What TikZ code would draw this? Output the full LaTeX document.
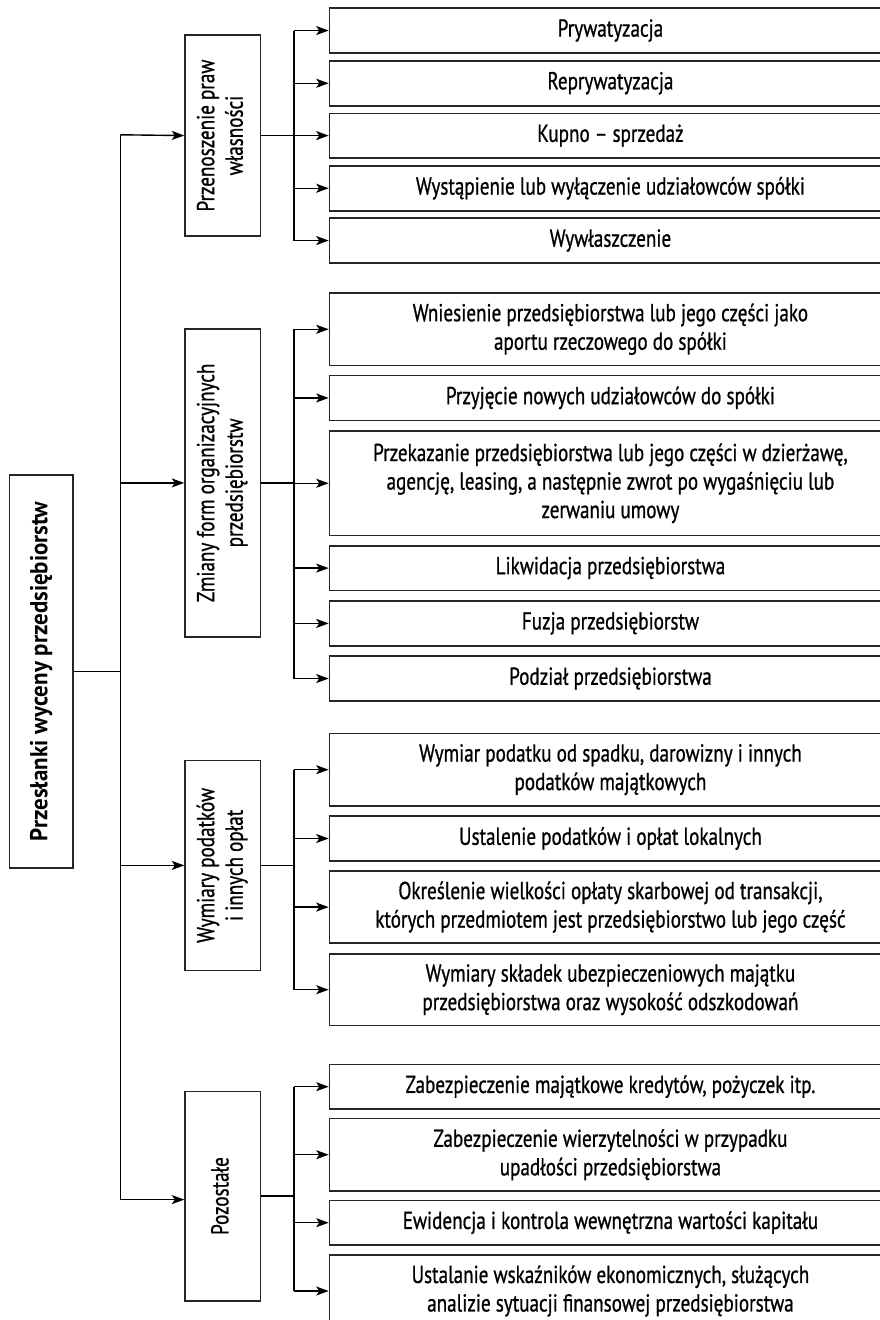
\documentclass[tikz,border=0pt]{standalone}
\usepackage{fontspec}
\setmainfont[FakeStretch=0.78,FakeBold=0.8]{PT Sans}
\newfontfamily\titlefont[FakeStretch=0.935]{PT Sans}
\usetikzlibrary{arrows.meta}

% placement helpers: name, top y, height, text
\newcommand\leafbox[4]{%
  \node[leaf, anchor=north west, minimum height=#3] (#1) at (328.7,#2) {#4};}
\newcommand\catbox[4]{%
  \node[cat, anchor=north west, minimum height=#3] (#1) at (184.3,#2)
    {\rotatebox{90}{\begin{tabular}{@{}c@{}}#4\end{tabular}}};}

\begin{document}
\begin{tikzpicture}[x=1pt,y=-1pt,
  txt/.style={font=\fontsize{24.5}{28.5}\selectfont},
  leaf/.style={txt, draw=black!85, line width=1.5pt, minimum width=562pt,
    align=center, inner sep=0pt},
  cat/.style={txt, draw=black!85, line width=1.5pt, minimum width=75.4pt,
    inner sep=0pt},
  conn/.style={draw=black, line width=1.4pt},
  arr/.style={conn, -{Stealth[length=12.5pt,width=9pt,inset=3pt]}},
]
\useasboundingbox (0,0) rectangle (880,1320);
\clip (0,0) rectangle (880,1320);

% root
\node[draw=black!85, line width=1.5pt, minimum width=63.3pt, minimum height=393.2pt,
  inner sep=0pt, anchor=north west] (root) at (8.7,474)
  {\rotatebox{90}{\fontsize{24.5}{28.5}\titlefont\bfseries Przesłanki wyceny przedsiębiorstw}};

% categories
\catbox{c1}{34.3}{201pt}{Przenoszenie praw\\własności}
\catbox{c2}{328.3}{307.7pt}{Zmiany form organizacyjnych\\przedsiębiorstw}
\catbox{c3}{759.7}{209.9pt}{Wymiary podatków\\i innych opłat}
\catbox{c4}{1090.5}{209.5pt}{Pozostałe}

% group 1
\leafbox{r11}{7.3}{45pt}{Prywatyzacja}
\leafbox{r12}{60}{45pt}{Reprywatyzacja}
\leafbox{r13}{112.7}{44.3pt}{Kupno – sprzedaż}
\leafbox{r14}{165}{45pt}{Wystąpienie lub wyłączenie udziałowców spółki}
\leafbox{r15}{217.3}{45pt}{Wywłaszczenie}

% group 2
\leafbox{r21}{292.3}{72.4pt}{Wniesienie przedsiębiorstwa lub jego części jako\\aportu rzeczowego do spółki}
\leafbox{r22}{374.7}{45pt}{Przyjęcie nowych udziałowców do spółki}
\leafbox{r23}{430.3}{104.4pt}{Przekazanie przedsiębiorstwa lub jego części w dzierżawę,\\agencję, leasing, a następnie zwrot po wygaśnięciu lub\\zerwaniu umowy}
\leafbox{r24}{545}{44.7pt}{Likwidacja przedsiębiorstwa}
\leafbox{r25}{600.3}{44.7pt}{Fuzja przedsiębiorstw}
\leafbox{r26}{655.3}{45pt}{Podział przedsiębiorstwa}

% group 3
\leafbox{r31}{732.8}{72.3pt}{Wymiar podatku od spadku, darowizny i innych\\podatków majątkowych}
\leafbox{r32}{815.4}{44.7pt}{Ustalenie podatków i opłat lokalnych}
\leafbox{r33}{870.4}{71.9pt}{Określenie wielkości opłaty skarbowej od transakcji,\\których przedmiotem jest przedsiębiorstwo lub jego część}
\leafbox{r34}{953}{71.9pt}{Wymiary składek ubezpieczeniowych majątku\\przedsiębiorstwa oraz wysokość odszkodowań}

% group 4
\leafbox{r41}{1063.6}{44.7pt}{Zabezpieczenie majątkowe kredytów, pożyczek itp.}
\leafbox{r42}{1117.8}{72.3pt}{Zabezpieczenie wierzytelności w przypadku\\upadłości przedsiębiorstwa}
\leafbox{r43}{1199.6}{44.7pt}{Ewidencja i kontrola wewnętrzna wartości kapitału}
\leafbox{r44}{1254.1}{72.3pt}{Ustalanie wskaźników ekonomicznych, służących\\analizie sytuacji finansowej przedsiębiorstwa}

% trunk from the root to the categories
\coordinate (tTop) at (120.3,134.8);
\coordinate (tBot) at (120.3,1199.6);
\draw[conn] (tTop) -- (tBot);
\draw[conn] (root.east) -- (root.east -| tTop);
\draw[arr] (tTop) -- (c1.west);
\draw[arr] (c2.west -| tTop) -- (c2.west);
\draw[arr] (c3.west -| tTop) -- (c3.west);
\draw[arr] (tBot) -- (tBot -| c4.west);

% buses from each category to its items
\coordinate (bus) at (294,0);
\draw[conn] (r11.west -| bus) -- (r15.west -| bus);
\draw[conn] (c1.east) -- (c1.east -| bus);
\foreach \n in {r11,r12,r13,r14,r15} \draw[arr] (\n.west -| bus) -- (\n.west);

\draw[conn] (r21.west -| bus) -- (r26.west -| bus);
\draw[conn] (c2.east) -- (c2.east -| bus);
\foreach \n in {r21,r22,r23,r24,r25,r26} \draw[arr] (\n.west -| bus) -- (\n.west);

\draw[conn] (r31.west -| bus) -- (r34.west -| bus);
\draw[conn] (c3.east) -- (c3.east -| bus);
\foreach \n in {r31,r32,r33,r34} \draw[arr] (\n.west -| bus) -- (\n.west);

\draw[conn] (r41.west -| bus) -- (r44.west -| bus);
\draw[conn] (c4.east) -- (c4.east -| bus);
\foreach \n in {r41,r42,r43,r44} \draw[arr] (\n.west -| bus) -- (\n.west);
\end{tikzpicture}
\end{document}
